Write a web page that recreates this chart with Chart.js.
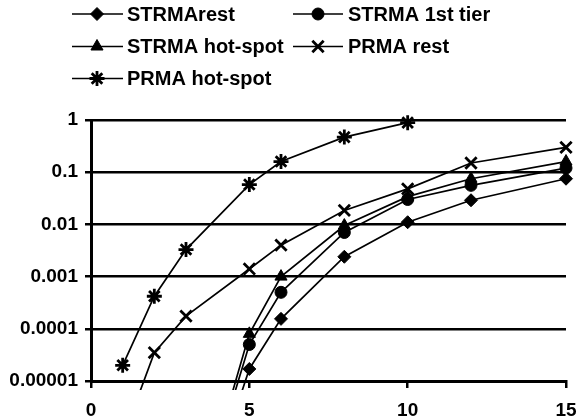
<!DOCTYPE html>
<html>
<head>
<meta charset="utf-8">
<script src="https://cdn.jsdelivr.net/npm/chart.js@4/dist/chart.umd.min.js"></script>
<style>
  html, body { margin: 0; padding: 0; background: #fff; }
  #wrap { width: 577px; height: 418px; }
</style>
</head>
<body>
<div id="wrap"><canvas id="c" width="577" height="418"></canvas></div>
<script>
// ---- data ----
const xValues      = [1, 2, 3, 4, 5, 6, 8, 10, 12, 15];
const strmaRest    = [null, null, null, 2.5e-7, 1.7e-5, 1.55e-4, 2.4e-3, 0.011, 0.029, 0.075];
const strma1stTier = [null, null, null, 5e-7, 5e-5, 5e-4, 7e-3, 0.030, 0.056, 0.12];
const strmaHotSpot = [null, null, null, 6.5e-7, 8e-5, 1.0e-3, 9.5e-3, 0.034, 0.075, 0.16];
const prmaRest     = [8e-7, 3.5e-5, 1.75e-4, null, 1.4e-3, 4e-3, 0.0185, 0.048, 0.15, 0.30];
const prmaHotSpot  = [2e-5, 4.2e-4, 3.3e-3, null, 0.058, 0.16, 0.47, 0.89, null, null];

const seriesLabels = ['STRMArest', 'STRMA 1st tier', 'STRMA hot-spot', 'PRMA rest', 'PRMA hot-spot'];
const yTickValues  = [0.00001, 0.0001, 0.001, 0.01, 0.1, 1];
const yTickLabels  = ['0.00001', '0.0001', '0.001', '0.01', '0.1', '1'];
const xTickValues  = [0, 5, 10, 15];
const xTickLabels  = ['0', '5', '10', '15'];

const seriesValues = [strmaRest, strma1stTier, strmaHotSpot, prmaRest, prmaHotSpot];
const styles = [
  { pointStyle: 'rectRot',  radius: 6.5, pbw: 1 },
  { pointStyle: 'circle',   radius: 6,   pbw: 1 },
  { pointStyle: 'triangle', radius: 7,   pbw: 1 },
  { pointStyle: 'crossRot', radius: 8,   pbw: 2.8 },
  { pointStyle: 'star',     radius: 7.5, pbw: 2.8 }
];

function toPoints(vals) {
  const pts = [];
  vals.forEach((v, i) => { if (v !== null) pts.push({ x: xValues[i], y: v }); });
  return pts;
}

const datasets = seriesValues.map((vals, i) => ({
  label: seriesLabels[i],
  data: toPoints(vals),
  borderColor: '#000',
  backgroundColor: '#000',
  borderWidth: 1.7,
  tension: 0,
  pointStyle: styles[i].pointStyle,
  pointRadius: styles[i].radius,
  pointBorderWidth: styles[i].pbw,
  pointBackgroundColor: '#000',
  pointBorderColor: '#000',
  clip: { left: 10, top: 10, right: 12, bottom: 9 }
}));

const FONT = "'Liberation Sans', Arial, Helvetica, sans-serif";

function drawMarker(ctx, style, radius, bw, x, y) {
  if (Chart.helpers && Chart.helpers.drawPoint) {
    ctx.save();
    ctx.fillStyle = '#000';
    ctx.strokeStyle = '#000';
    ctx.lineWidth = bw;
    Chart.helpers.drawPoint(ctx, { pointStyle: style, radius: radius, rotation: 0, borderWidth: bw }, x, y);
    ctx.restore();
  }
}

const customLegend = {
  id: 'customLegend',
  afterDraw(chart) {
    const ctx = chart.ctx;
    const cols = [{ l: 72, r: 123, m: 97, t: 127 }, { l: 293, r: 343, m: 318, t: 348 }];
    const rows = [14, 46.5, 78.5];
    chart.data.datasets.forEach((ds, i) => {
      const c = cols[i % 2];
      const y = rows[Math.floor(i / 2)];
      ctx.save();
      ctx.strokeStyle = '#000';
      ctx.lineWidth = 1.7;
      ctx.beginPath();
      ctx.moveTo(c.l, y);
      ctx.lineTo(c.r, y);
      ctx.stroke();
      drawMarker(ctx, styles[i].pointStyle, styles[i].radius, styles[i].pbw, c.m, y);
      ctx.fillStyle = '#000';
      ctx.font = 'bold 20px ' + FONT;
      ctx.textBaseline = 'middle';
      ctx.textAlign = 'left';
      ctx.fillText(ds.label, c.t, y + 1);
      ctx.restore();
    });
  }
};

new Chart(document.getElementById('c'), {
  type: 'line',
  data: { datasets: datasets },
  plugins: [customLegend],
  options: {
    responsive: false,
    animation: false,
    devicePixelRatio: 1,
    layout: { padding: { top: 120, right: 0, left: 0, bottom: 0 } },
    plugins: { legend: { display: false }, tooltip: { enabled: false } },
    scales: {
      x: {
        type: 'linear',
        min: 0, max: 15,
        afterFit(s) { s.height = 37; s.paddingRight = 11; s.paddingLeft = 0; },
        afterBuildTicks(s) { s.ticks = xTickValues.map(v => ({ value: v })); },
        ticks: {
          color: '#000',
          font: { family: FONT, size: 19, weight: 'bold' },
          padding: 11,
          maxRotation: 0,
          callback: (v) => xTickLabels[xTickValues.indexOf(v)]
        },
        grid: { drawOnChartArea: false, drawTicks: true, tickLength: 7, color: '#000', lineWidth: 2.5 },
        border: { display: true, color: '#000', width: 3 }
      },
      y: {
        type: 'logarithmic',
        min: 0.00001, max: 1,
        afterFit(s) { s.width = 91; },
        afterBuildTicks(s) { s.ticks = yTickValues.map(v => ({ value: v })); },
        ticks: {
          color: '#000',
          font: { family: FONT, size: 19, weight: 'bold' },
          padding: 7,
          callback: (v) => {
            const idx = yTickValues.findIndex(t => Math.abs(Math.log10(t) - Math.log10(v)) < 1e-6);
            return idx >= 0 ? yTickLabels[idx] : '';
          }
        },
        grid: { drawTicks: true, tickLength: 6, color: '#000', lineWidth: 2.5 },
        border: { display: true, color: '#000', width: 3 }
      }
    }
  }
});
</script>
</body>
</html>
